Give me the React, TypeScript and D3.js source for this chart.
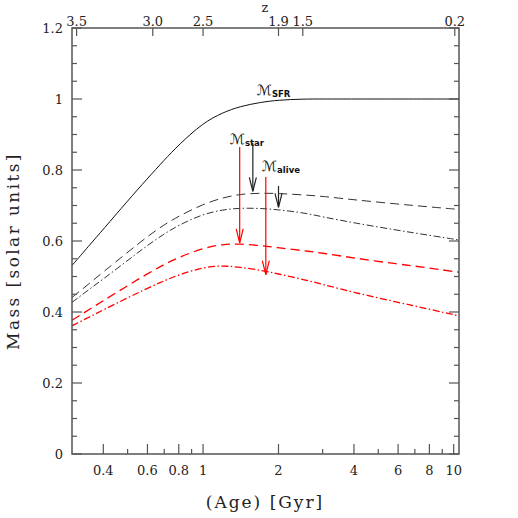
import React from 'react';
import * as d3 from 'd3';

// age grid (Gyr) shared by all curves
const ages = [0.3, 0.35, 0.4, 0.5, 0.6, 0.7, 0.8, 1.0, 1.2, 1.4, 1.7, 2.0, 2.5, 3, 4, 6, 8, 10.5];

const massSFR = [0.531, 0.586, 0.633, 0.713, 0.776, 0.828, 0.871, 0.933, 0.962, 0.979, 0.991, 0.997, 1.0, 1.0, 1.0, 1.0, 1.0, 1.0];
const starBlack = [0.441, 0.479, 0.513, 0.568, 0.613, 0.646, 0.670, 0.704, 0.722, 0.732, 0.735, 0.734, 0.730, 0.726, 0.716, 0.704, 0.696, 0.689];
const aliveBlack = [0.427, 0.463, 0.493, 0.545, 0.588, 0.620, 0.645, 0.676, 0.688, 0.693, 0.692, 0.688, 0.680, 0.668, 0.651, 0.630, 0.616, 0.603];
const starRed = [0.377, 0.406, 0.432, 0.474, 0.508, 0.534, 0.554, 0.580, 0.591, 0.592, 0.587, 0.581, 0.573, 0.566, 0.552, 0.535, 0.524, 0.512];
const aliveRed = [0.361, 0.385, 0.406, 0.440, 0.467, 0.488, 0.505, 0.526, 0.531, 0.526, 0.518, 0.507, 0.492, 0.478, 0.455, 0.427, 0.408, 0.389];

// axis ticks
const xLabelTicks = [0.4, 0.6, 0.8, 1, 2, 4, 6, 8, 10];
const xMinorTicks = [0.5, 0.7, 0.9, 3, 5, 7, 9];
const yLabelTicks = [0, 0.2, 0.4, 0.6, 0.8, 1, 1.2];
const yMinorTicks = d3.range(0, 1.2001, 0.05);
const zLabels = ['3.5', '3.0', '2.5', '1.9', '1.5', '0.2'];
const zAges = [0.313, 0.63, 1.0, 2.0, 2.5, 10.1];

// arrows: age, start value, tip value
const arrowAges = [1.4, 1.58, 1.78, 2.0];
const arrowFrom = [0.865, 0.876, 0.78, 0.755];
const arrowTo = [0.595, 0.74, 0.505, 0.695];
const arrowColors = ['#ff0000', '#222', '#ff0000', '#222'];

// labels: subscript, age, value of baseline
const labelSubs = ['SFR', 'star', 'alive'];
const labelAges = [1.64, 1.28, 1.72];
const labelVals = [1.012, 0.872, 0.796];

const width = 518;
const height = 518;
const margin = { top: 28, right: 59, bottom: 64, left: 72 };

const App = () => {
  const x = d3.scaleLog().domain([0.3, 10.5]).range([margin.left, width - margin.right]);
  const y = d3.scaleLinear().domain([0, 1.2]).range([height - margin.bottom, margin.top]);
  const x0 = x.range()[0], x1 = x.range()[1];
  const y0 = y.range()[0], y1 = y.range()[1];

  const line = (vals: number[]) =>
    d3.line<number>()
      .x((_, i) => x(ages[i]))
      .y(d => y(d))
      .curve(d3.curveBasis)(vals) || '';

  const series = [
    { vals: massSFR, color: '#111', dash: null, w: 1 },
    { vals: starBlack, color: '#333', dash: '9,5', w: 1 },
    { vals: aliveBlack, color: '#333', dash: '7,2.5,1.5,2.5', w: 1 },
    { vals: starRed, color: '#ff0000', dash: '9,5', w: 1.3 },
    { vals: aliveRed, color: '#ff0000', dash: '7,2.5,1.5,2.5', w: 1.3 },
  ];

  const axisColor = '#555';
  const tickFont = "'DejaVu Serif', serif";

  return (
    <svg width={width} height={height} style={{ position: 'absolute', left: 0, top: 0, background: '#fff' }}>
      {series.map((s, i) => (
        <path key={i} d={line(s.vals)} fill="none" stroke={s.color} strokeWidth={s.w}
          strokeDasharray={s.dash || undefined} />
      ))}

      {arrowAges.map((a, i) => {
        const ax = x(a);
        const ya = y(arrowFrom[i]);
        const yb = y(arrowTo[i]);
        const hl = 14, hw = 3.5;
        return (
          <g key={i} stroke={arrowColors[i]} strokeWidth={1.2} fill="none">
            <line x1={ax} x2={ax} y1={ya} y2={yb} />
            <path d={`M${ax - hw},${yb - hl}L${ax},${yb}L${ax + hw},${yb - hl}`} />
          </g>
        );
      })}

      {/* annotations */}
      {labelSubs.map((s, i) => (
        <text key={s} x={x(labelAges[i])} y={y(labelVals[i])} fontFamily="'DejaVu Sans', sans-serif" fontSize={14} fill="#111">
          ℳ<tspan fontSize={8.5} fontWeight="bold" dy={2}>{s}</tspan>
        </text>
      ))}

      {/* frame */}
      <rect x={x0} y={y1} width={x1 - x0} height={y0 - y1} fill="none" stroke={axisColor} strokeWidth={1.5} />

      {/* y ticks both sides */}
      {yMinorTicks.map((v, i) => {
        const major = Math.abs(v / 0.2 - Math.round(v / 0.2)) < 1e-6;
        const len = major ? 10 : 5;
        return (
          <g key={i} stroke={axisColor} strokeWidth={1.2}>
            <line x1={x0} x2={x0 + len} y1={y(v)} y2={y(v)} />
            <line x1={x1} x2={x1 - len} y1={y(v)} y2={y(v)} />
          </g>
        );
      })}
      {yLabelTicks.map((v, i) => (
        <text key={i} x={x0 - 9} y={y(v)} dy="0.35em" textAnchor="end" fontFamily={tickFont} fontSize={13} fill="#222">
          {d3.format('~g')(v)}
        </text>
      ))}

      {/* bottom ticks */}
      {xLabelTicks.map((v, i) => (
        <g key={i}>
          <line x1={x(v)} x2={x(v)} y1={y0} y2={y0 - 10} stroke={axisColor} strokeWidth={1.2} />
          <text x={x(v)} y={y0 + 16} dy="0.35em" textAnchor="middle" fontFamily={tickFont} fontSize={13} fill="#222">{v}</text>
        </g>
      ))}
      {xMinorTicks.map((v, i) => (
        <line key={i} x1={x(v)} x2={x(v)} y1={y0} y2={y0 - 5} stroke={axisColor} strokeWidth={1.2} />
      ))}

      {/* top z axis */}
      {zAges.map((a, i) => (
        <g key={i}>
          <line x1={x(a)} x2={x(a)} y1={y1} y2={y1 + 8} stroke={axisColor} strokeWidth={1.2} />
          <text x={x(a)} y={y1 - 7} dy="0.35em" textAnchor="middle" fontFamily={tickFont} fontSize={13} fill="#222">{zLabels[i]}</text>
        </g>
      ))}
      <text x={265} y={7} dy="0.35em" textAnchor="middle" fontFamily={tickFont} fontSize={13} fill="#222">z</text>

      {/* axis titles */}
      <text x={265} y={502} dy="0.35em" textAnchor="middle" fontFamily="'DejaVu Serif', serif" fontSize={17} letterSpacing={2} fill="#222">(Age) [Gyr]</text>
      <text transform={`translate(13,251) rotate(-90)`} dy="0.35em" textAnchor="middle" fontFamily="'DejaVu Serif', serif" fontSize={17} letterSpacing={2.4} fill="#222">Mass [solar units]</text>
    </svg>
  );
};

export default App;
